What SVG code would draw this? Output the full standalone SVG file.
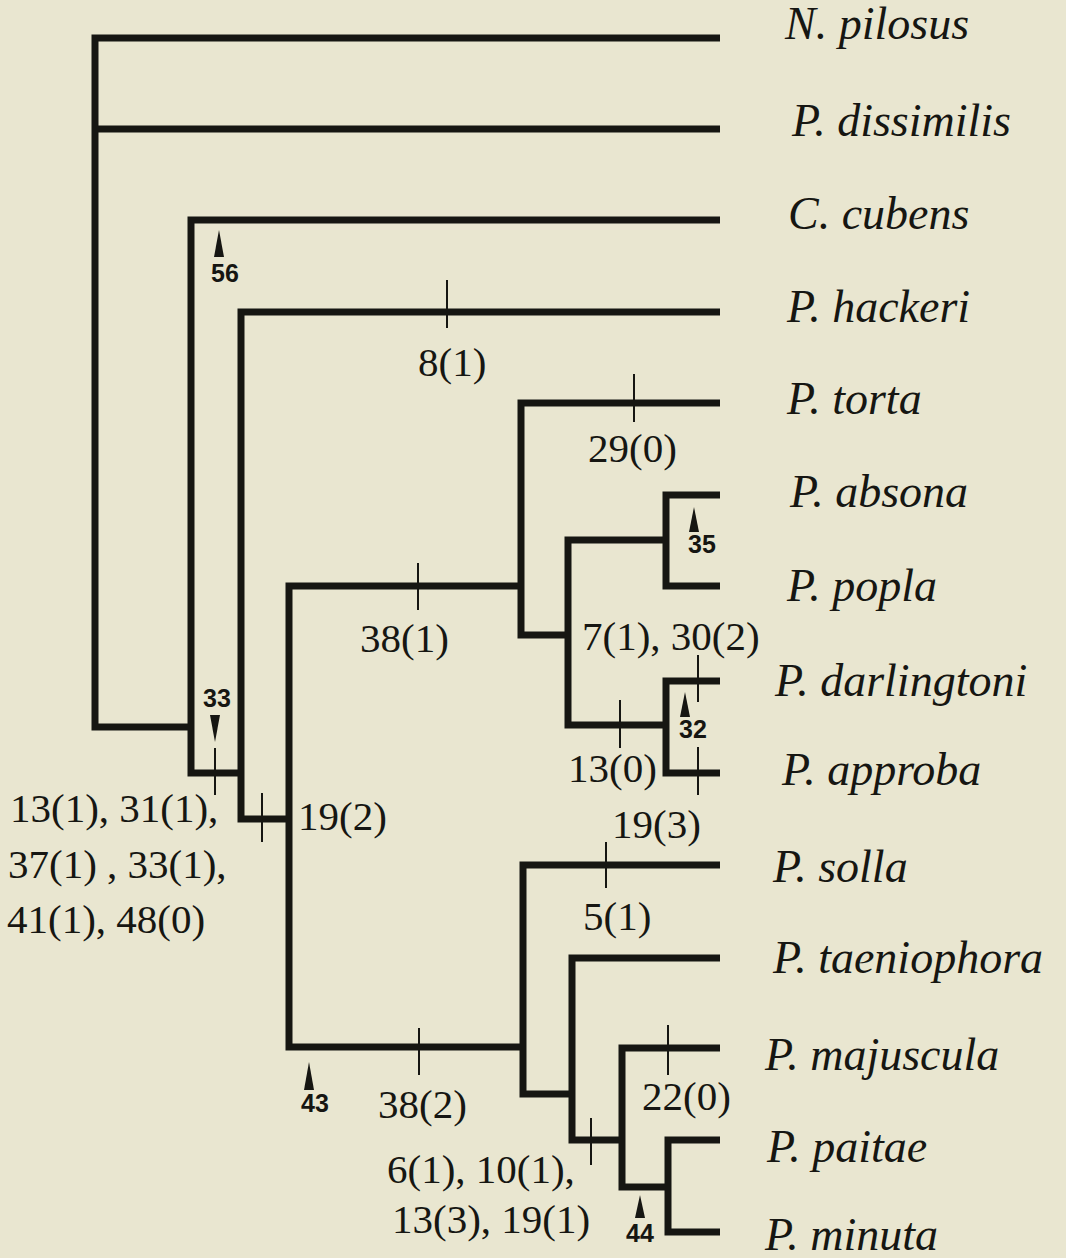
<svg xmlns="http://www.w3.org/2000/svg" width="1066" height="1258" viewBox="0 0 1066 1258">
<style>
.br{fill:none;stroke:#161612;stroke-width:7;stroke-linejoin:miter;stroke-linecap:butt}
.tk{stroke:#161612;stroke-width:2}
.tx{font-family:"Liberation Serif","Times New Roman",serif;font-style:italic;font-size:46px;fill:#161612}
.ch{font-family:"Liberation Serif","Times New Roman",serif;font-size:41px;fill:#161612}
.an{font-family:"Liberation Sans",Arial,sans-serif;font-weight:bold;font-size:25px;fill:#161612;text-anchor:middle}
.ar{fill:#161612}
</style>
<rect width="1066" height="1258" fill="#e9e6d0"/>
<g id="connectors">
<path class="br" d="M720,38 H95 V727 H191"/>
<path class="br" d="M95,129 H720"/>
<path class="br" d="M720,220 H191 V773 H241"/>
<path class="br" d="M720,312 H241 V819 H289"/>
<path class="br" d="M521,586 H289 V1047 H523"/>
<path class="br" d="M720,403 H521 V635 H568"/>
<path class="br" d="M720,495 H666 V586 H720"/>
<path class="br" d="M666,540 H568 V725 H666"/>
<path class="br" d="M720,681 H666 V773 H720"/>
<path class="br" d="M720,865 H523 V1094 H572"/>
<path class="br" d="M720,958 H572 V1140 H622"/>
<path class="br" d="M720,1048 H622 V1187 H668"/>
<path class="br" d="M720,1140 H668 V1232 H720"/>
</g>
<g id="ticks">
<line class="tk" x1="447" y1="280" x2="447" y2="328"/>
<line class="tk" x1="634" y1="374" x2="634" y2="422"/>
<line class="tk" x1="418" y1="563" x2="418" y2="610"/>
<line class="tk" x1="698" y1="655" x2="698" y2="702"/>
<line class="tk" x1="620" y1="700" x2="620" y2="748"/>
<line class="tk" x1="698" y1="747" x2="698" y2="795"/>
<line class="tk" x1="215" y1="748" x2="215" y2="795"/>
<line class="tk" x1="262" y1="793" x2="262" y2="842"/>
<line class="tk" x1="606" y1="842" x2="606" y2="888"/>
<line class="tk" x1="419" y1="1028" x2="419" y2="1075"/>
<line class="tk" x1="668" y1="1025" x2="668" y2="1075"/>
<line class="tk" x1="591" y1="1118" x2="591" y2="1165"/>
</g>
<g id="arrows">
<g id="arrow-56"><path class="ar" d="M219,230 L214,257 L224,257 Z"/><text class="an" x="225" y="282">56</text></g>
<g id="arrow-33"><path class="ar" d="M215,742 L210,715 L220,715 Z"/><text class="an" x="217" y="707">33</text></g>
<g id="arrow-35"><path class="ar" d="M694,507 L689,532 L699,532 Z"/><text class="an" x="702" y="553">35</text></g>
<g id="arrow-32"><path class="ar" d="M685,692 L680,717 L690,717 Z"/><text class="an" x="693" y="738">32</text></g>
<g id="arrow-43"><path class="ar" d="M309,1062 L304,1090 L314,1090 Z"/><text class="an" x="315" y="1112">43</text></g>
<g id="arrow-44"><path class="ar" d="M640,1195 L635,1218 L645,1218 Z"/><text class="an" x="640" y="1242">44</text></g>
</g>
<g id="taxa">
<text id="t-pilosus" class="tx" x="785" y="39">N. pilosus</text>
<text id="t-dissimilis" class="tx" x="792" y="136">P. dissimilis</text>
<text id="t-cubens" class="tx" x="788" y="229">C. cubens</text>
<text id="t-hackeri" class="tx" x="787" y="322">P. hackeri</text>
<text id="t-torta" class="tx" x="787" y="414">P. torta</text>
<text id="t-absona" class="tx" x="790" y="507">P. absona</text>
<text id="t-popla" class="tx" x="787" y="601">P. popla</text>
<text id="t-darlingtoni" class="tx" x="775" y="696">P. darlingtoni</text>
<text id="t-approba" class="tx" x="782" y="785">P. approba</text>
<text id="t-solla" class="tx" x="773" y="882">P. solla</text>
<text id="t-taeniophora" class="tx" x="773" y="973">P. taeniophora</text>
<text id="t-majuscula" class="tx" x="765" y="1070">P. majuscula</text>
<text id="t-paitae" class="tx" x="767" y="1162">P. paitae</text>
<text id="t-minuta" class="tx" x="765" y="1250">P. minuta</text>
</g>
<g id="characters">
<text class="ch" x="418" y="376">8(1)</text>
<text class="ch" x="588" y="462">29(0)</text>
<text class="ch" x="360" y="652">38(1)</text>
<text class="ch" x="582" y="650">7(1), 30(2)</text>
<text class="ch" x="568" y="782">13(0)</text>
<text class="ch" x="612" y="838">19(3)</text>
<text class="ch" x="298" y="830">19(2)</text>
<text class="ch" x="10" y="822">13(1), 31(1),</text>
<text class="ch" x="8" y="878">37(1) , 33(1),</text>
<text class="ch" x="7" y="933">41(1), 48(0)</text>
<text class="ch" x="583" y="930">5(1)</text>
<text class="ch" x="378" y="1118">38(2)</text>
<text class="ch" x="642" y="1110">22(0)</text>
<text class="ch" x="387" y="1183">6(1), 10(1),</text>
<text class="ch" x="392" y="1233">13(3), 19(1)</text>
</g>
</svg>
